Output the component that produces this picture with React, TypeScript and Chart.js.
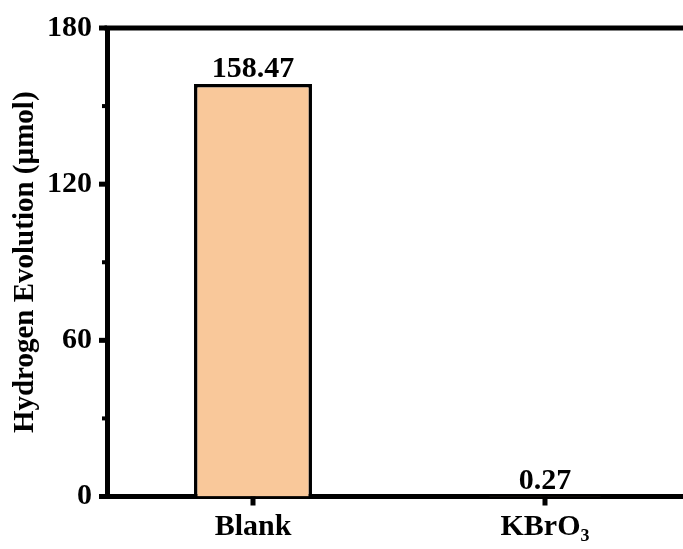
import React, { useEffect, useRef } from "react";
import { Chart, registerables } from "chart.js";

Chart.register(...registerables);

const categories = ["Blank", "KBrO₃"];
const hydrogenValues = [158.47, 0.27];
const valueLabels = ["158.47", "0.27"];
const yTickValues = [0, 60, 120, 180];
const yMinorTickValues = [30, 90, 150];
const yTitle = "Hydrogen Evolution (µmol)";

const FONT = '"Liberation Serif", "Times New Roman", serif';

const framePlugin = {
  id: "frame",
  afterDraw(chart: any) {
    const { ctx, chartArea, scales } = chart;
    const y = scales.y;
    const x = scales.x;
    ctx.save();
    ctx.fillStyle = "#000";
    // top border
    ctx.fillRect(chartArea.left - 2.5, chartArea.top - 2.5, chart.width, 5);
    // y ticks
    yTickValues.forEach((v) => {
      const py = y.getPixelForValue(v);
      ctx.fillRect(chartArea.left - 8, py - 2.5, 8, 5);
    });
    yMinorTickValues.forEach((v) => {
      const py = y.getPixelForValue(v);
      ctx.fillRect(chartArea.left - 5, py - 2, 5, 4);
    });
    // x ticks
    categories.forEach((_, i) => {
      const px = x.getPixelForValue(i);
      ctx.fillRect(px - 2.5, chartArea.bottom, 5, 9);
    });
    // value labels
    const meta = chart.getDatasetMeta(0);
    ctx.font = `bold 30px ${FONT}`;
    ctx.textAlign = "center";
    ctx.textBaseline = "alphabetic";
    meta.data.forEach((bar: any, i: number) => {
      ctx.fillText(valueLabels[i], bar.x, bar.y - 7);
    });
    ctx.restore();
  },
};

export default function App() {
  const ref = useRef<HTMLCanvasElement>(null);
  useEffect(() => {
    if (!ref.current) return;
    const chart = new Chart(ref.current, {
      type: "bar",
      data: {
        labels: categories,
        datasets: [
          {
            data: hydrogenValues,
            backgroundColor: "#F9C89A",
            borderColor: "#000",
            borderWidth: 3.5,
            categoryPercentage: 1,
            barPercentage: 0.404,
          },
        ],
      },
      options: {
        responsive: false,
        animation: false,
        devicePixelRatio: 1,
        layout: { padding: { left: 0, top: 28, right: 9, bottom: 0 } },
        plugins: {
          legend: { display: false },
          tooltip: { enabled: false },
        },
        scales: {
          x: {
            grid: { display: false, drawTicks: false },
            border: { display: true, color: "#000", width: 5 },
            ticks: {
              color: "#000",
              padding: 13,
              font: { family: FONT, size: 30, weight: "bold" },
            },
            afterFit: (s: any) => {
              s.height = 52.5;
              s.paddingLeft = 0;
              s.paddingRight = 0;
            },
          },
          y: {
            min: 0,
            max: 180,
            grid: { display: false, drawTicks: false },
            border: { display: true, color: "#000", width: 5 },
            ticks: {
              stepSize: 60,
              color: "#000",
              padding: 15,
              font: { family: FONT, size: 30, weight: "bold" },
            },
            title: {
              display: true,
              text: yTitle,
              color: "#000",
              padding: { top: 8, bottom: 0 },
              font: { family: FONT, size: 29, weight: "bold" },
            },
            afterFit: (s: any) => {
              s.width = 107;
              s.paddingTop = 0;
              s.paddingBottom = 0;
            },
          },
        },
      },
      plugins: [framePlugin],
    });
    return () => chart.destroy();
  }, []);
  return (
    <div
      style={{
        position: "fixed",
        left: 0,
        top: 0,
        width: 683,
        height: 549,
        overflow: "hidden",
        background: "#fff",
      }}
    >
      <canvas ref={ref} width={700} height={549} style={{ display: "block" }} />
    </div>
  );
}
